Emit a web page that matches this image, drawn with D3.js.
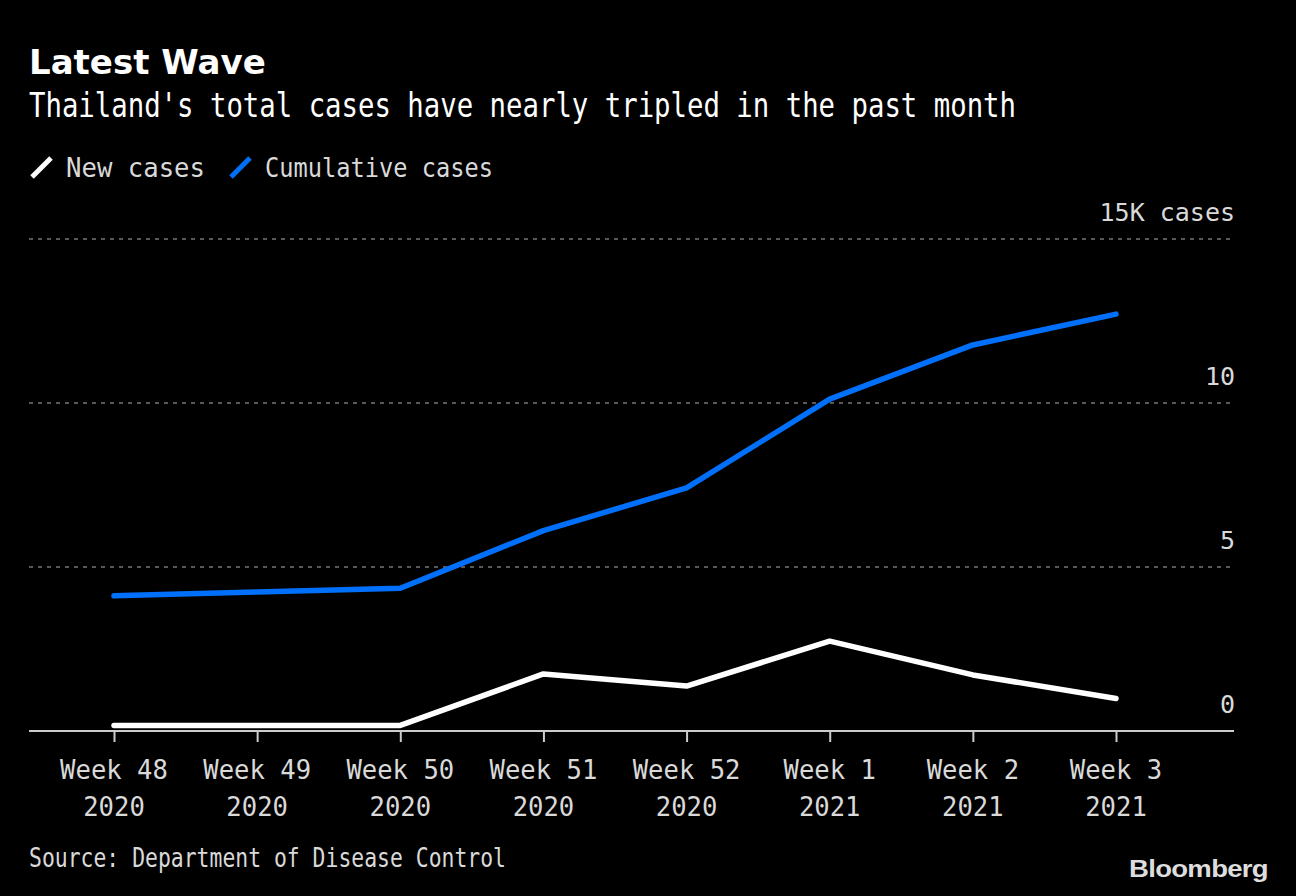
<!DOCTYPE html>
<html>
<head>
<meta charset="utf-8">
<script src="https://cdn.jsdelivr.net/npm/d3@7"></script>
<style>
  html, body { margin: 0; padding: 0; background: #000; }
  svg { display: block; }
</style>
</head>
<body>
<svg id="chart" width="1296" height="896"></svg>
<script>
// ---- data (thousands of cases) ----
const weeks = ["Week 48", "Week 49", "Week 50", "Week 51", "Week 52", "Week 1", "Week 2", "Week 3"];
const years = ["2020", "2020", "2020", "2020", "2020", "2021", "2021", "2021"];
const newCases = [0.17, 0.17, 0.17, 1.74, 1.37, 2.74, 1.71, 0.99];
const cumulativeCases = [4.12, 4.24, 4.35, 6.11, 7.41, 10.12, 11.77, 12.71];
const yTicks = [0, 5, 10, 15];
const yTickLabels = ["0", "5", "10", "15K cases"];
const seriesNames = ["New cases", "Cumulative cases"];

const MONO = "'DejaVu Sans Mono', monospace";
const svg = d3.select("#chart");
svg.append("rect").attr("width", 1296).attr("height", 896).attr("fill", "#000");

// title / subtitle
svg.append("text").attr("x", 29).attr("y", 74)
  .attr("font-family", "'DejaVu Sans', sans-serif").attr("font-weight", "bold")
  .attr("font-size", 34).attr("fill", "#fff").text("Latest Wave");
svg.append("text").attr("x", 29).attr("y", 117)
  .attr("font-family", MONO).attr("font-size", 33).attr("fill", "#fff")
  .attr("textLength", 987).attr("lengthAdjust", "spacingAndGlyphs")
  .text("Thailand's total cases have nearly tripled in the past month");

// legend
const legendColors = ["#ffffff", "#0070fa"];
const legendX = [30, 229];
const legendLen = [139, 228];
seriesNames.forEach((name, i) => {
  const g = svg.append("g").attr("transform", `translate(${legendX[i]},0)`);
  g.append("line").attr("x1", 2).attr("y1", 177).attr("x2", 21).attr("y2", 158)
    .attr("stroke", legendColors[i]).attr("stroke-width", 5).attr("stroke-linecap", "butt");
  g.append("text").attr("x", 36).attr("y", 177)
    .attr("font-family", MONO).attr("font-size", 27).attr("fill", "#d9d9d9")
    .attr("textLength", legendLen[i]).attr("lengthAdjust", "spacingAndGlyphs")
    .text(name);
});

// scales
const x = d3.scalePoint().domain(weeks).range([114, 1116]);
const y = d3.scaleLinear().domain([0, 15]).range([731, 239]);
const left = 29, right = 1234;

// gridlines
svg.append("g").selectAll("line").data(yTicks.filter(d => d > 0)).join("line")
  .attr("x1", left).attr("x2", right)
  .attr("y1", d => y(d)).attr("y2", d => y(d))
  .attr("stroke", "#777").attr("stroke-width", 1.5).attr("stroke-dasharray", "4,5");

// y labels
svg.append("g").selectAll("text").data(yTicks).join("text")
  .attr("x", 1235).attr("y", d => y(d) - 18)
  .attr("text-anchor", "end")
  .attr("font-family", MONO).attr("font-size", 25).attr("fill", "#d9d9d9")
  .text((d, i) => yTickLabels[i]);

// x axis
const xAxis = d3.axisBottom(x).tickSize(11).tickFormat("");
const gx = svg.append("g").attr("transform", `translate(0,${y(0)})`).call(xAxis);
gx.select(".domain").remove();
gx.selectAll(".tick line").attr("stroke", "#cccccc").attr("stroke-width", 2);
svg.append("line").attr("x1", left).attr("x2", right).attr("y1", y(0)).attr("y2", y(0))
  .attr("stroke", "#cccccc").attr("stroke-width", 2);

const charW = 15.4;
const tl = svg.append("g").selectAll("g").data(weeks).join("g")
  .attr("transform", d => `translate(${x(d)},0)`);
tl.append("text").attr("y", 779).attr("text-anchor", "middle")
  .attr("font-family", MONO).attr("font-size", 26).attr("fill", "#d9d9d9")
  .attr("textLength", d => d.length * charW).attr("lengthAdjust", "spacingAndGlyphs")
  .text(d => d);
tl.append("text").attr("y", 816).attr("text-anchor", "middle")
  .attr("font-family", MONO).attr("font-size", 26).attr("fill", "#d9d9d9")
  .attr("textLength", (d, i) => years[i].length * charW).attr("lengthAdjust", "spacingAndGlyphs")
  .text((d, i) => years[i]);

// lines
const line = d3.line().x((d, i) => x(weeks[i])).y(d => y(d));
svg.append("path").datum(cumulativeCases).attr("d", line)
  .attr("fill", "none").attr("stroke", legendColors[1]).attr("stroke-width", 5.5)
  .attr("stroke-linecap", "round").attr("stroke-linejoin", "round");
svg.append("path").datum(newCases).attr("d", line)
  .attr("fill", "none").attr("stroke", legendColors[0]).attr("stroke-width", 5.5)
  .attr("stroke-linecap", "round").attr("stroke-linejoin", "round");

// source + logo
svg.append("text").attr("x", 29).attr("y", 867)
  .attr("font-family", MONO).attr("font-size", 27).attr("fill", "#d9d9d9")
  .attr("textLength", 477).attr("lengthAdjust", "spacingAndGlyphs")
  .text("Source: Department of Disease Control");
svg.append("text").attr("x", 1268).attr("y", 877).attr("text-anchor", "end")
  .attr("font-family", "'Liberation Sans', Arial, sans-serif").attr("font-weight", "bold")
  .attr("font-size", 24).attr("letter-spacing", -0.6).attr("fill", "#dddddd")
  .attr("textLength", 139).attr("lengthAdjust", "spacingAndGlyphs")
  .text("Bloomberg");
</script>
</body>
</html>
